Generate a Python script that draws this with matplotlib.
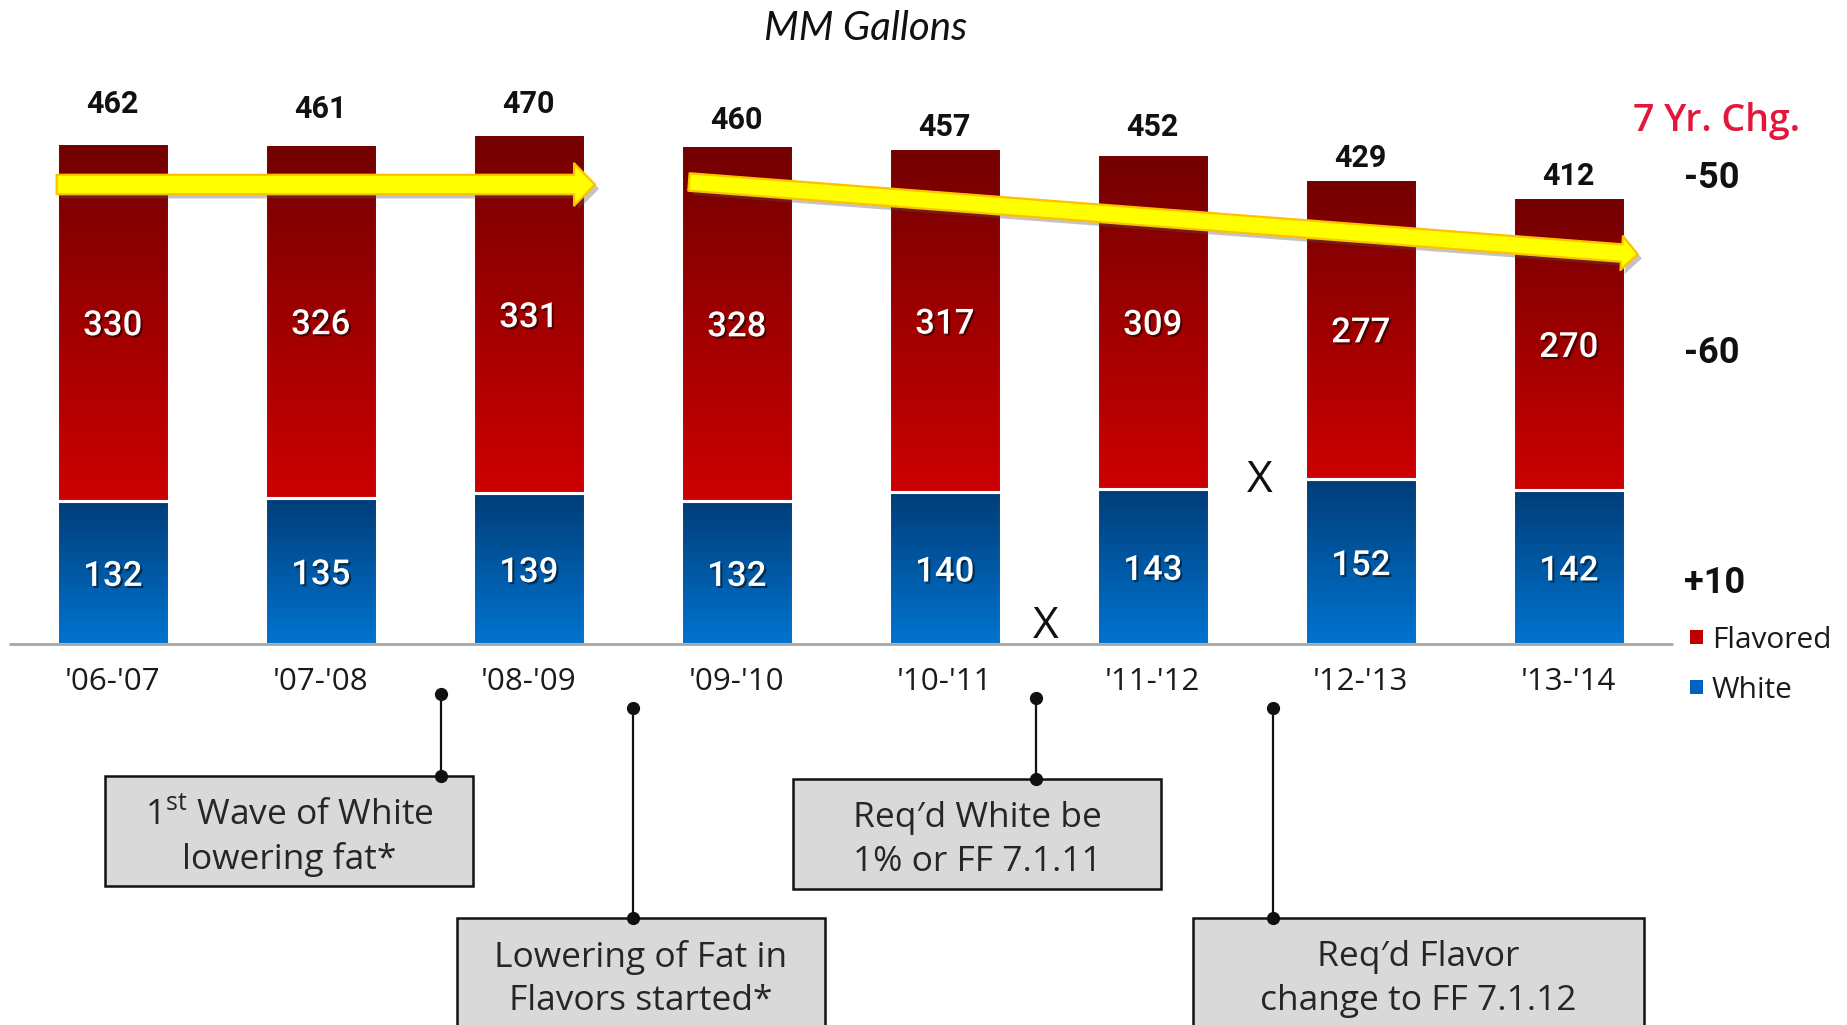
import matplotlib.pyplot as plt
import matplotlib.patheffects as pe
import numpy as np
from matplotlib.colors import LinearSegmentedColormap
from matplotlib.patches import FancyArrowPatch, Rectangle

plt.rcParams['mathtext.fontset'] = 'custom'
plt.rcParams['mathtext.rm'] = 'Open Sans'

# school-year milk volume, MM gallons
seasons = ["'06-'07", "'07-'08", "'08-'09", "'09-'10",
           "'10-'11", "'11-'12", "'12-'13", "'13-'14"]
white = [132, 135, 139, 132, 140, 143, 152, 142]
flavored = [330, 326, 331, 328, 317, 309, 277, 270]

# policy milestones: label, box (left, top, right, bottom), stem x, stem top (pixels)
milestones = [
    ("1$^{\\mathrm{st}}$ Wave of White\nlowering fat*", (105, 776, 473, 886), 441, 694),
    ("Lowering of Fat in\nFlavors started*", (457, 918, 825, 1045), 633, 708),
    ("Req\u2032d White be\n1% or FF 7.1.11", (793, 779, 1161, 889), 1036, 698),
    ("Req\u2032d Flavor\nchange to FF 7.1.12", (1193, 918, 1644, 1045), 1273, 708),
]

W, H = 1847, 1025
X0, STEP, BASE, UNIT = 112.8, 208.0, 644.0, 1.085   # pixel layout of the bar area
DY = 4   # visual centring nudge for va='center' text, pixels

totals = [w + f for w, f in zip(white, flavored)]
n = len(seasons)
x = np.arange(n)
sans = ['Open Sans', 'DejaVu Sans']
bold = ['Roboto', 'DejaVu Sans']

fig = plt.figure(figsize=(W / 100, H / 100), dpi=100)
ax = fig.add_axes([0, 0, 1, 1])
ax.axis('off')


def gradient_fill(patch, top, bottom):
    x0, y0 = patch.get_x(), patch.get_y()
    cmap = LinearSegmentedColormap.from_list('seg', [bottom, top])
    grad = np.linspace(0, 1, 256).reshape(-1, 1)
    im = ax.imshow(grad, extent=(x0, x0 + patch.get_width(), y0, y0 + patch.get_height()),
                   origin='lower', cmap=cmap, aspect='auto', interpolation='bilinear', zorder=2)
    im.set_clip_path(patch)


bw = 0.54
wb = ax.bar(x, white, bw, facecolor='none', edgecolor='white', linewidth=2.2, zorder=3)
fb = ax.bar(x, flavored, bw, bottom=white, facecolor='none', edgecolor='white',
            linewidth=2.2, zorder=3)
for p in wb:
    gradient_fill(p, '#013d78', '#0074d0')
for p in fb:
    gradient_fill(p, '#730000', '#cc0000')

ax.set_xlim(-X0 / STEP, (W - X0) / STEP)
ax.set_ylim(-(H - BASE) / UNIT, BASE / UNIT)
ax.hlines(0, -0.5, n - 0.5, color='#a6a6a6', linewidth=2, zorder=4)

dy = DY / UNIT
shadow = [pe.withSimplePatchShadow(offset=(1.5, -1.5), shadow_rgbFace='#000000', alpha=0.5)]
for i in range(n):
    ax.text(x[i], white[i] / 2 - dy, str(white[i]), ha='center', va='center', color='white',
            fontsize=25, fontweight='medium', family=bold, path_effects=shadow, zorder=5)
    ax.text(x[i], white[i] + flavored[i] / 2 - dy, str(flavored[i]), ha='center',
            va='center', color='white', fontsize=25, fontweight='medium', family=bold,
            path_effects=shadow, zorder=5)

# total labels sit a little unevenly above the stacks
lift = [39, 36, 31, 27, 23, 28, 23, 23]
for i in range(n):
    ax.text(x[i], totals[i] + lift[i] - dy, str(totals[i]), ha='center', va='center',
            color='#111111', fontsize=22, fontweight='bold', family=bold, zorder=5)
    ax.text(x[i], -(678 - BASE) / UNIT - dy, seasons[i], ha='center', va='center',
            color='#1a1a1a', fontsize=22.5, family=sans)

# trend arrows
arrow_fx = [pe.SimplePatchShadow(offset=(3, -3), shadow_rgbFace='#555555', alpha=0.35),
            pe.Normal()]
a1 = FancyArrowPatch((-bw / 2, 423.5), (2.318, 423.5),
                     arrowstyle='simple,head_length=1.5,head_width=3.05,tail_width=1.4',
                     mutation_scale=10, shrinkA=0, shrinkB=0, facecolor='#ffff00',
                     edgecolor='#ffc000', linewidth=1.6, zorder=6, path_effects=arrow_fx)
a2 = FancyArrowPatch((2.770, 425.8), (7.331, 359.2),
                     arrowstyle='simple,head_length=1.15,head_width=2.45,tail_width=1.26',
                     mutation_scale=10, shrinkA=0, shrinkB=0, facecolor='#ffff00',
                     edgecolor='#ffc000', linewidth=1.6, zorder=6, path_effects=arrow_fx)
ax.add_patch(a1)
ax.add_patch(a2)

# overlay in pixel space for the title, side notes and callouts
ann = fig.add_axes([0, 0, 1, 1])
ann.set_xlim(0, W)
ann.set_ylim(H, 0)
ann.axis('off')
ann.patch.set_alpha(0)

ann.text(866, 24 + DY, 'MM Gallons', ha='center', va='center', fontsize=29,
         style='italic', family=['Lato', 'DejaVu Sans'], color='#111111')

ann.text(1633, 117 + DY, '7 Yr. Chg.', ha='left', va='center', fontsize=27,
         fontweight='semibold', family=sans, color='#e2173b')
changes = [totals[-1] - totals[0], flavored[-1] - flavored[0], white[-1] - white[0]]
for val, y in zip(changes, [174, 349, 579]):
    ann.text(1684, y + DY, f'{val:+d}', ha='left', va='center', fontsize=26,
             fontweight='bold', family=bold, color='#111111')

for label, col, y in [('Flavored', '#c00000', 637), ('White', '#0064be', 687)]:
    ann.add_patch(Rectangle((1690, y - 7), 13, 14, facecolor=col, edgecolor='none'))
    ann.text(1712, y + DY, label, ha='left', va='center', fontsize=21.5, family=sans,
             color='#1a1a1a')

for xm, ym in [(1046, 623), (1260, 477)]:
    ann.text(xm, ym + DY, 'X', ha='center', va='center', fontsize=32, family=sans,
             color='#111111')

for label, (l, t, r, b), sx, sy in milestones:
    ann.add_patch(Rectangle((l, t), r - l, b - t, facecolor='#d9d9d9',
                            edgecolor='#111111', linewidth=1.8, zorder=2))
    ann.plot([sx, sx], [sy, t], color='#111111', linewidth=1.6, zorder=3)
    ann.plot([sx, sx], [sy, t], 'o', color='#111111', markersize=8.5, zorder=4)
    ann.text((l + r) / 2, t + 57 + DY, label, ha='center', va='center', fontsize=25.5,
             family=sans, color='#262626', linespacing=1.35, zorder=5)

fig.savefig('out.png', dpi=100)
